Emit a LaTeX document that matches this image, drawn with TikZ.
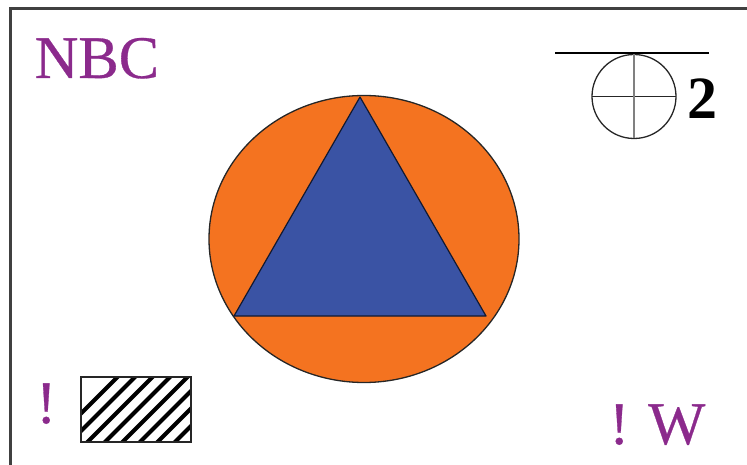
\documentclass[tikz,border=0pt]{standalone}
\usepackage{fontspec}
\setmainfont{Liberation Serif}
\newfontfamily\signfont[FakeBold=0.5]{Liberation Serif}
\definecolor{signorange}{HTML}{F47320}
\definecolor{signblue}{HTML}{3A53A4}
\definecolor{signpurple}{HTML}{8B2A8C}

\begin{document}
\begin{tikzpicture}[
    x=1pt, y=-1pt,
    label/.style={anchor=base west, inner sep=0pt, text=signpurple, font=\fontsize{60.5}{60}\signfont},
    thinline/.style={draw=black!85, line width=1.3pt}
]
\useasboundingbox (0,0) rectangle (747,465);

% frame
\draw[line width=2.4pt, draw=black!75] (10.5,465) -- (10.5,8.5) -- (747,8.5);

% disc and triangle
\draw[thinline, fill=signorange] (364,239) ellipse [x radius=155, y radius=143.5];
\draw[draw=black!70!signblue, line width=1.2pt, line join=round, fill=signblue]
    (360,97) -- (486,316) -- (234,316) -- cycle;

% symbol top right
\draw[thinline] (634,96.5) circle [radius=42];
\draw[thinline] (592,96.5) -- (676,96.5);
\draw[line width=1.5pt, draw=black!50] (634,54.5) -- (634,138.5);
\draw[line width=1.6pt] (555,53) -- (709,53);
\node[anchor=base west, inner sep=0pt, font=\fontsize{60}{60}\selectfont\bfseries] (two) at (687,119) {2};

% hatched box
\begin{scope}
    \clip (81,377) rectangle (191,442);
    \foreach \x in {0,17.5,...,192.5}
        \draw[line width=4.2pt] (\x+44.5,450) -- (\x+134.5,360);
\end{scope}
\draw[thinline] (81,377) rectangle (191,442);

% labels
\node[label] (nbc) at (34.5,78) {NBC};
\node[label] (markleft) at (36,423) {!};
\node[label] (markright) at (609,444) {!};
\node[label] (w) at (648,444) {W};

\end{tikzpicture}
\end{document}
